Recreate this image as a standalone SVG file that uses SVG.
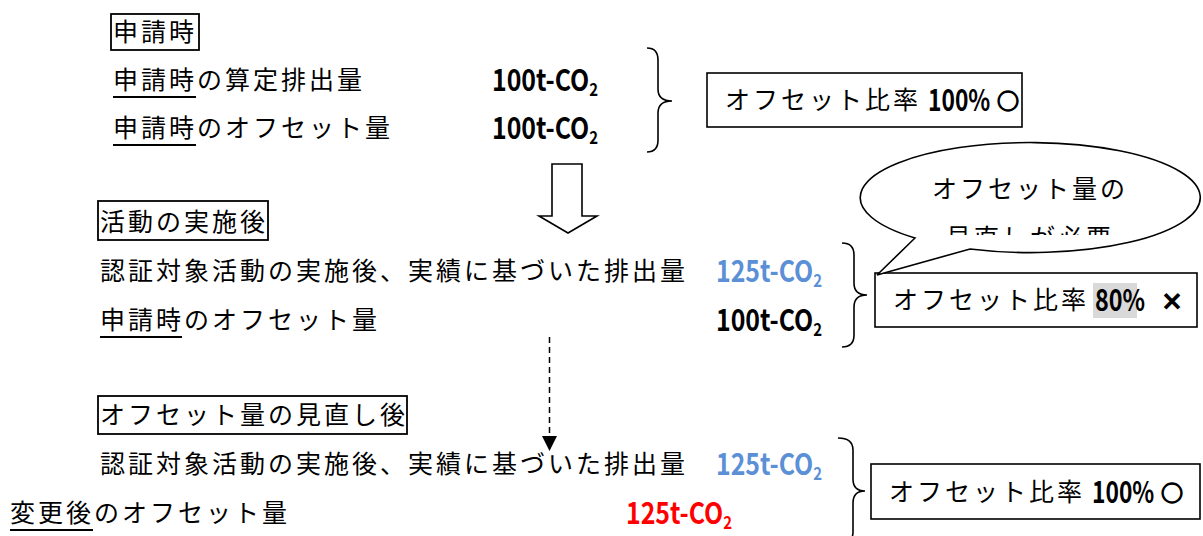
<svg xmlns="http://www.w3.org/2000/svg" width="1203" height="536" viewBox="0 0 1203 536">
<style>
.jp{font-family:"Noto Sans CJK JP","Noto Sans CJK SC",sans-serif;font-size:25px;letter-spacing:3px;fill:#000}
.num{font-family:"Noto Sans CJK JP","Liberation Sans",sans-serif;font-size:30px;font-weight:bold;fill:#000}
.sub{font-size:18px}
.blue{fill:#5B8FD6}
.red{fill:#FF0000}
.box{fill:#fff;stroke:#000;stroke-width:1.6}
.hbox{fill:none;stroke:#000;stroke-width:1.8}
.brace{fill:none;stroke:#000;stroke-width:1.6}
.ul{stroke:#000;stroke-width:2}
.mark{font-family:"Noto Sans CJK JP","DejaVu Sans",sans-serif;font-size:22px;font-weight:bold;fill:#000;stroke:#000;stroke-width:1.4}
</style>
<defs>
<clipPath id="clipCallout"><rect x="850" y="130" width="360" height="105"/></clipPath>
</defs>
<rect width="1203" height="536" fill="#fff"/>

<g id="section1">
  <g id="heading1">
    <rect class="hbox" x="111" y="14" width="88" height="36"/>
    <text class="jp" x="113" y="41">申請時</text>
  </g>
  <g id="row1a">
    <text class="jp" x="113" y="89">申請時の算定排出量</text>
    <line class="ul" x1="113" y1="97" x2="196" y2="97"/>
    <text class="num" transform="translate(492,91) scale(0.83,1)">100t-CO<tspan class="sub" dy="5">2</tspan></text>
  </g>
  <g id="row1b">
    <text class="jp" x="113" y="137">申請時のオフセット量</text>
    <line class="ul" x1="113" y1="145" x2="196" y2="145"/>
    <text class="num" transform="translate(492,139) scale(0.83,1)">100t-CO<tspan class="sub" dy="5">2</tspan></text>
  </g>
  <g id="result1">
    <rect class="box" x="707" y="73" width="315" height="54"/>
    <text class="jp" x="725" y="109">オフセット比率</text>
    <text class="num" transform="translate(928,111) scale(0.76,1)">100%</text>
    <text class="mark" x="997" y="109">○</text>
  </g>
</g>

<g id="section2">
  <g id="heading2">
    <rect class="hbox" x="98" y="201" width="170" height="39"/>
    <text class="jp" x="100" y="231">活動の実施後</text>
  </g>
  <g id="row2a">
    <text class="jp" x="100" y="280">認証対象活動の実施後、実績に基づいた排出量</text>
    <text class="num blue" transform="translate(716,282) scale(0.83,1)">125t-CO<tspan class="sub" dy="5">2</tspan></text>
  </g>
  <g id="row2b">
    <text class="jp" x="100" y="329">申請時のオフセット量</text>
    <line class="ul" x1="100" y1="337" x2="182" y2="337"/>
    <text class="num" transform="translate(716,331) scale(0.83,1)">100t-CO<tspan class="sub" dy="5">2</tspan></text>
  </g>
  <g id="result2">
    <rect class="box" x="875" y="273" width="322" height="54"/>
    <rect x="1093" y="283" width="44" height="35" fill="#D9D9D9"/>
    <text class="jp" x="893" y="309">オフセット比率</text>
    <text class="num" transform="translate(1095,311) scale(0.78,1)">80%</text>
    <text class="mark" x="1161" y="309">×</text>
  </g>
  <g id="callout">
    <path d="M915,238 A170,55 0 1 1 970,249 L877,275 Z" fill="#fff" stroke="#000" stroke-width="1.6"/>
    <g clip-path="url(#clipCallout)">
      <text class="jp" x="1030" y="198" text-anchor="middle">オフセット量の</text>
      <text class="jp" x="1030" y="247" text-anchor="middle">見直しが必要</text>
    </g>
  </g>
</g>

<g id="section3">
  <g id="heading3">
    <rect class="hbox" x="98" y="396" width="309" height="38"/>
    <text class="jp" x="100" y="424">オフセット量の見直し後</text>
  </g>
  <g id="row3a">
    <text class="jp" x="100" y="473">認証対象活動の実施後、実績に基づいた排出量</text>
    <text class="num blue" transform="translate(716,475) scale(0.83,1)">125t-CO<tspan class="sub" dy="5">2</tspan></text>
  </g>
  <g id="row3b">
    <text class="jp" x="10" y="522">変更後のオフセット量</text>
    <line class="ul" x1="10" y1="530" x2="93" y2="530"/>
    <text class="num red" transform="translate(626,524) scale(0.83,1)">125t-CO<tspan class="sub" dy="5">2</tspan></text>
  </g>
  <g id="result3">
    <rect class="box" x="871" y="464" width="329" height="55"/>
    <text class="jp" x="889" y="501">オフセット比率</text>
    <text class="num" transform="translate(1092,503) scale(0.76,1)">100%</text>
    <text class="mark" x="1161" y="501">○</text>
  </g>
</g>

<g id="connectors">
  <path class="brace" d="M647,48 Q658,48 658,60 L658,89 Q658,101 672,101 Q658,101 658,113 L658,140 Q658,152 647,152"/>
  <path class="brace" d="M842,243 Q854,243 854,255 L854,283 Q854,295 867,295 Q854,295 854,307 L854,335 Q854,347 842,347"/>
  <path class="brace" d="M838,438 Q853,438 853,450 L853,479 Q853,491 865,491 Q853,491 853,503 L853,532 Q853,544 838,544"/>
  <polygon points="552,164 582,164 582,216 597,216 568,233 539,216 552,216" fill="#fff" stroke="#000" stroke-width="1.6"/>
  <line x1="549.5" y1="337" x2="549.5" y2="437" stroke="#000" stroke-width="1.5" stroke-dasharray="6,4"/>
  <polygon points="542,436 557,436 549.5,451" fill="#000"/>
</g>
</svg>
